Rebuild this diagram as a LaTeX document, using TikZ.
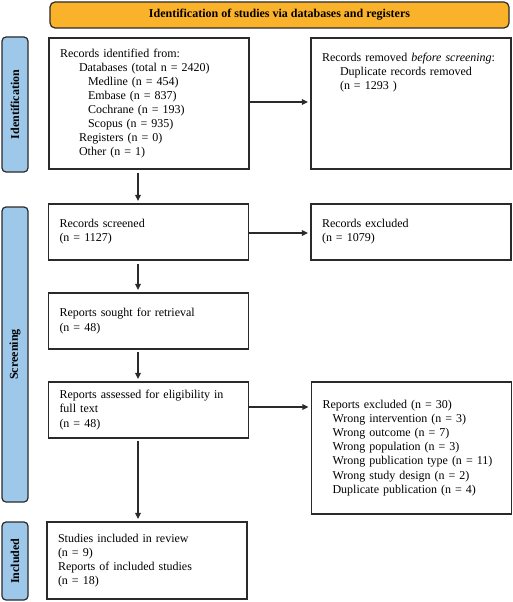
\documentclass[tikz,border=0pt]{standalone}
\usepackage{fontspec}
\setmainfont{Liberation Serif}
\usetikzlibrary{arrows.meta}
\definecolor{bannerorange}{HTML}{FBB22B}
\definecolor{sideblue}{HTML}{9DC8EA}
\definecolor{edge}{HTML}{2A2A2A}
\tikzset{
  box/.style={draw=edge, line width=1.2pt, fill=white, inner xsep=11pt, inner ysep=0pt,
    align=left, text width=#1, font=\fontsize{12pt}{14.1pt}\selectfont},
  box/.default=178pt,
  side/.style={draw=edge, line width=1.2pt, fill=sideblue, rounded corners=4pt,
    minimum height=26pt, font=\bfseries\fontsize{12pt}{13pt}\selectfont},
  banner/.style={draw=edge, line width=1.2pt, fill=bannerorange, rounded corners=5pt,
    minimum width=459pt, minimum height=26pt, font=\bfseries\fontsize{12pt}{13pt}\selectfont},
  arr/.style={draw=edge, line width=1.2pt, -{Triangle[length=6pt,width=5.5pt]}, shorten >=2.5pt},
}
\begin{document}
\begin{tikzpicture}[x=1pt,y=-1pt]
\useasboundingbox (0,0) rectangle (512,602);
\node[banner] (top) at (279.5,15) {Identification of studies via databases and registers};
\node[side, minimum width=135pt, rotate=90] (sid) at (15,104.5) {Identification};
\node[side, minimum width=295pt, rotate=90] (sscr) at (15,354.5) {Screening};
\node[side, minimum width=78pt, rotate=90] (sinc) at (15,561) {Included};

\node[box, minimum width=200pt, minimum height=131pt] (b1) at (149,103.5) {Records identified from:\\
\hspace*{19pt}Databases (total n = 2420)\\
\hspace*{28pt}Medline (n = 454)\\
\hspace*{28pt}Embase (n = 837)\\
\hspace*{28pt}Cochrane (n = 193)\\
\hspace*{28pt}Scopus (n = 935)\\
\hspace*{19pt}Registers (n = 0)\\
\hspace*{19pt}Other (n = 1)};
\node[draw=edge, line width=1.2pt, minimum width=200pt, minimum height=131pt] (b2) at (411,103.5) {};
\node[box, anchor=north west, draw=none, fill=none] (b2t) at ([yshift=-15pt]b2.north west) {Records removed \emph{before screening}:\\
\hspace*{18pt}Duplicate records removed\\
\hspace*{18pt}(n = 1293 )};

\node[box, minimum width=199pt, minimum height=56pt] (b3) at (148.5,232) {Records screened\\(n = 1127)};
\node[box, minimum width=200pt, minimum height=56pt] (b4) at (411,232) {Records excluded\\(n = 1079)};
\node[box, minimum width=199pt, minimum height=56pt] (b5) at (148.5,321) {Reports sought for retrieval\\(n = 48)};
\node[box, minimum width=199pt, minimum height=56pt] (b6) at (148.5,410) {Reports assessed for eligibility in\\full text\\(n = 48)};
\node[box, minimum width=199pt, minimum height=132pt] (b7) at (411.5,448) {Reports excluded (n = 30)\\
\hspace*{10pt}Wrong intervention (n = 3)\\
\hspace*{10pt}Wrong outcome (n = 7)\\
\hspace*{10pt}Wrong population (n = 3)\\
\hspace*{10pt}Wrong publication type (n = 11)\\
\hspace*{10pt}Wrong study design (n = 2)\\
\hspace*{10pt}Duplicate publication (n = 4)};
\node[box, minimum width=200pt, minimum height=77pt] (b8) at (147,560.5) {Studies included in review\\(n = 9)\\Reports of included studies\\(n = 18)};

\coordinate (col) at (138,0);
\draw[arr, shorten <=3pt] (b1.south -| col) -- (b3.north -| col);
\draw[arr, shorten <=3pt] (b3.south -| col) -- (b5.north -| col);
\draw[arr, shorten <=2pt] (b5.south -| col) -- (b6.north -| col);
\draw[arr, shorten <=2pt] (b6.south -| col) -- (b8.north -| col);
\draw[arr] ([yshift=1.5pt]b1.east) -- ([yshift=1.5pt]b1.east -| b2.west);
\draw[arr] ([yshift=-1pt]b3.east) -- ([yshift=-1pt]b3.east -| b4.west);
\draw[arr] ([yshift=3pt]b6.east) -- ([yshift=3pt]b6.east -| b7.west);
\end{tikzpicture}
\end{document}
